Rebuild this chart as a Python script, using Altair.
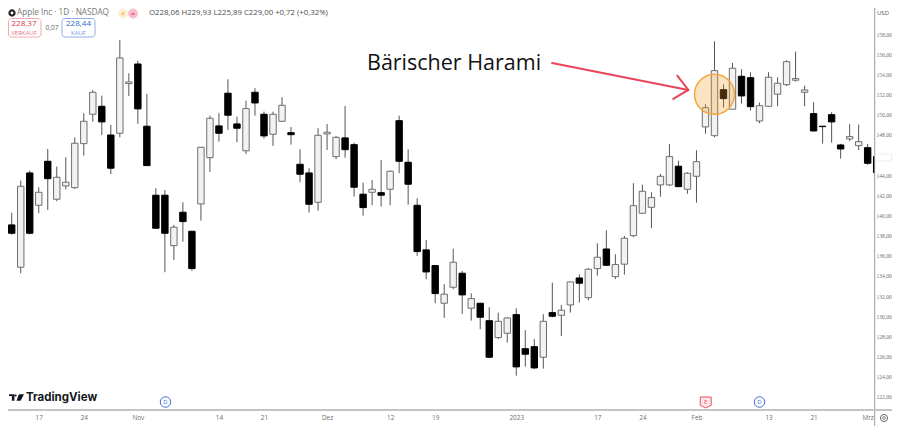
import altair as alt
import pandas as pd

highs = [141.28,140.29,143.47,144.46,142.81,146.61,144.86,145.79,147.77,150.16,
152.47,151.91,149.00,157.44,154.13,155.38,152.07,142.71,142.54,139.07,
141.32,138.47,146.81,149.92,150.16,153.53,149.82,151.41,152.64,150.32,
150.32,151.75,148.80,146.58,144.70,148.67,149.10,147.91,150.88,147.24,
143.27,143.51,145.52,144.46,149.92,146.58,141.72,137.58,135.10,133.18,
136.71,134.50,132.28,131.32,130.89,130.36,129.90,130.79,128.61,127.72,
130.20,133.34,131.12,133.44,134.17,134.77,137.25,138.54,136.16,137.97,
143.21,143.07,142.31,144.13,147.11,145.45,144.30,146.49,151.05,157.31,
153.04,155.15,154.53,154.23,151.21,154.23,153.73,155.42,156.28,152.90,
151.25,148.90,150.26,147.11,149.07,149.03,147.11,146.30]

body_tops = [139.83,139.07,142.91,144.23,142.31,145.39,143.80,143.31,147.18,149.36,
152.24,150.85,148.00,155.65,153.27,155.05,148.87,142.02,142.02,138.84,
140.33,138.44,146.78,149.66,148.90,152.15,149.10,150.62,152.24,150.06,
150.06,150.95,148.23,145.09,144.23,147.97,148.27,147.77,147.71,147.04,
142.12,142.61,142.27,144.40,149.42,145.29,141.02,136.59,135.03,132.19,
135.36,134.27,131.75,131.29,129.56,129.50,129.83,130.16,126.78,126.98,
129.50,130.36,130.60,133.41,133.80,134.67,135.86,136.68,135.13,137.75,
140.98,142.41,141.78,143.90,145.85,144.90,144.20,145.35,150.71,154.39,
152.50,154.63,153.83,153.69,150.91,153.73,153.14,155.28,153.60,152.47,
150.12,148.87,150.02,147.01,147.84,147.34,146.74,145.85]

body_bottoms = [138.87,138.24,134.87,138.24,141.02,143.66,141.62,142.94,142.77,147.14,
150.06,149.30,144.70,148.17,153.10,150.59,144.96,138.74,138.24,137.01,
139.40,134.73,141.15,145.75,148.17,149.96,148.67,146.43,151.18,147.91,
148.07,149.36,148.03,144.10,141.12,141.32,148.10,145.85,146.54,142.81,
140.79,142.31,142.02,142.61,145.39,143.11,136.42,134.40,132.25,131.29,
132.88,132.12,130.80,129.90,125.93,127.88,128.31,124.97,126.23,124.87,
125.93,130.00,130.10,131.12,133.28,131.85,134.73,135.06,133.93,135.17,
138.00,140.23,140.82,143.04,143.04,142.87,142.61,143.90,148.80,147.93,
151.61,150.56,151.88,150.81,149.39,150.85,152.05,153.00,153.44,152.24,
148.40,148.83,149.30,146.61,147.61,146.94,145.19,144.26]

lows = [138.24,138.10,134.27,138.14,140.23,140.56,141.42,142.61,142.64,145.95,
149.33,148.00,144.10,147.77,151.88,149.10,144.93,138.67,134.37,135.59,
137.41,134.53,139.49,144.33,147.34,148.50,147.28,146.12,149.92,147.64,
146.91,149.30,147.04,143.31,140.29,140.49,146.51,145.59,145.75,141.88,
139.99,141.02,140.89,141.02,144.20,141.08,135.99,133.67,131.29,129.83,
132.68,130.23,129.56,128.71,125.83,127.72,127.38,124.10,125.00,124.74,
124.80,129.90,128.04,130.36,131.35,131.59,134.03,134.99,133.70,134.13,
137.85,140.16,138.74,141.88,142.94,142.81,142.17,141.28,148.13,147.77,
150.71,150.54,151.11,150.42,149.17,150.82,150.85,152.87,153.30,150.85,
148.37,147.14,147.24,145.65,147.38,146.51,145.03,143.83]

directions = list(
    "BBWBWBWWWW" "WBBWWBBBBW" "BBWWBBBWBB" "WWBBBWWWBB"
    "BWBWBBBBBW" "WBWBBWWBBB" "WBWWBWWBWW" "WWWWWBWWWW"
    "BWBBWWWWWW" "BBBBWWBB"
)

tick_positions = [4, 9, 15, 24, 29, 36, 43, 48, 57, 66, 71, 77, 85, 90, 96]
tick_labels = ["17", "24", "Nov", "14", "21", "Dez", "12", "19", "2023", "17", "24", "Feb", "13", "21", "Mrz"]
price_ticks = list(range(122, 160, 2))

shaft_x = [60.97, 76.09]
shaft_y = [155.15, 152.47]
head_x = [74.87, 76.09, 74.43]
head_y = [153.89, 152.47, 151.58]
circle_x = [79.0]
circle_y = [152.04]

df = pd.DataFrame({
    "i": range(len(highs)), "high": highs, "top": body_tops,
    "bottom": body_bottoms, "low": lows, "dir": directions,
})

X = alt.Scale(domain=[0.588, 96.814], nice=False, zero=False, padding=0)
Y = alt.Scale(domain=[120.69, 160.61], nice=False, zero=False, padding=0)
FONT = "Open Sans"

def one():
    return alt.Chart(pd.DataFrame({"a": [0]}))

def label(text, x, y, size=8, color="#555555", align="left", weight="normal", font=FONT):
    return one().mark_text(text=text, align=align, baseline="middle", fontSize=size,
                           color=color, fontWeight=weight, font=font).encode(
        x=alt.value(x - 8), y=alt.value(y - 8))

def box(x, x2, y, y2, stroke, fill="#ffffff", radius=3, width=1):
    return one().mark_rect(fill=fill, stroke=stroke, strokeWidth=width, cornerRadius=radius).encode(
        x=alt.value(x - 8), x2=alt.value(x2 - 8), y=alt.value(y - 8), y2=alt.value(y2 - 8))

def hrule(x, x2, y, color, width=1):
    return one().mark_rule(color=color, strokeWidth=width).encode(
        x=alt.value(x - 8), x2=alt.value(x2 - 8), y=alt.value(y - 8))

def vrule(x, y, y2, color, width=1):
    return one().mark_rule(color=color, strokeWidth=width).encode(
        x=alt.value(x - 8), y=alt.value(y - 8), y2=alt.value(y2 - 8))

def symbol(x, y, size, shape="circle", fill="#ffffff", stroke="#000000", width=1):
    return one().mark_point(shape=shape, size=size, filled=True, fill=fill, stroke=stroke,
                            strokeWidth=width, opacity=1).encode(
        x=alt.value(x - 8), y=alt.value(y - 8))

label_expr = ("[" + ",".join(f"'{t}'" for t in tick_labels) + "]"
              "[indexof([" + ",".join(map(str, tick_positions)) + "],datum.value)]")

x_axis = alt.Axis(
    values=tick_positions, labelExpr=label_expr, title=None, grid=False, ticks=False,
    domain=False, labelFontSize=6.4, labelColor="#6f6f6f", labelPadding=4, labelFont=FONT,
    labelFlush=False, labelOverlap=False)
y_axis = alt.Axis(
    orient="right", values=price_ticks, title=None, grid=False, ticks=False, domain=False,
    labelExpr="replace(format(datum.value,'.2f'),'.',',')", labelFontSize=5.6,
    labelColor="#6f6f6f", labelPadding=1, labelFont="Liberation Sans Narrow", labelOverlap=False,
    labelBound=False, labelFlush=False)

wicks = alt.Chart(df).mark_rule(color="#555555", strokeWidth=1, clip=True).encode(
    x=alt.X("i:Q", scale=X, axis=x_axis), y=alt.Y("high:Q", scale=Y, axis=y_axis), y2="low:Q")

bodies = alt.Chart(df).mark_bar(size=6.4, strokeWidth=1, clip=True).encode(
    x=alt.X("i:Q", scale=X, axis=x_axis),
    y=alt.Y("top:Q", scale=Y, axis=y_axis),
    y2="bottom:Q",
    fill=alt.Fill("dir:N", scale=alt.Scale(domain=["B", "W"], range=["#000000", "#f2f2f2"]), legend=None),
    stroke=alt.Stroke("dir:N", scale=alt.Scale(domain=["B", "W"], range=["#000000", "#6e6e6e"]), legend=None),
)

shaft = alt.Chart(pd.DataFrame({"x": shaft_x, "y": shaft_y, "o": range(2)})).mark_line(
    color="#e8455a", strokeWidth=2, strokeCap="round").encode(
    x=alt.X("x:Q", scale=X, axis=x_axis), y=alt.Y("y:Q", scale=Y, axis=y_axis), order="o:O")
head = alt.Chart(pd.DataFrame({"x": head_x, "y": head_y, "o": range(3)})).mark_line(
    color="#e8455a", strokeWidth=2, strokeCap="round").encode(
    x=alt.X("x:Q", scale=X, axis=x_axis), y=alt.Y("y:Q", scale=Y, axis=y_axis), order="o:O")

circle = alt.Chart(pd.DataFrame({"x": circle_x, "y": circle_y})).mark_point(
    shape="circle", size=1600, filled=True, fill="#f59a23", fillOpacity=0.28,
    stroke="#f3a73f", strokeWidth=1.5, strokeOpacity=1, opacity=1).encode(
    x=alt.X("x:Q", scale=X, axis=x_axis), y=alt.Y("y:Q", scale=Y, axis=y_axis))

logo = "M-1 -0.44H-0.28V0.44H-0.62V-0.2H-1Z M0.02 -0.27A0.14 0.14 0 1 1 -0.26 -0.27A0.14 0.14 0 1 1 0.02 -0.27Z M0.32 -0.44H1L0.55 0.44H0Z"
shield = "M-1 -1H1V0.5L0 1L-1 0.5Z"

layers = [
    wicks, bodies,
    circle, shaft, head,
    label("Bärischer Harami", 367, 63.5, size=21.5, color="#111111", font="Open Sans"),

    # chrome: axes lines
    vrule(874.7, 8, 426, "#9c9c9c", 1),
    hrule(8, 892, 410, "#c4c4c4", 2),

    # price tag ghost and currency
    box(875.5, 891.5, 154, 161, "#eeeeee", radius=1),
    label("USD", 877, 13, size=6, color="#555555"),

    # header
    symbol(12, 13, 26, stroke="#222222", width=2.2),
    label("Apple Inc · 1D · NASDAQ", 17, 13.2, size=8.2, color="#777777"),
    symbol(123, 13.5, 80, fill="#fdf1d4", stroke="#fdf1d4"),
    label("☀", 123, 13.5, size=6.5, color="#f4b13e", align="center", font="DejaVu Sans"),
    symbol(133, 13.5, 80, fill="#f8bccb", stroke="#f8bccb"),
    label("=", 133, 14, size=7, color="#d6336c", align="center"),
    label("O228,06  H229,93  L225,89  C229,00  +0,72 (+0,32%)", 149, 13.2, size=7.8, color="#4d4d4d"),
    box(8.5, 41, 18.5, 37, "#f2a9b2"),
    label("228,37", 24, 24, size=8, color="#d8344b", align="center"),
    label("VERKAUF", 24, 32.5, size=6, color="#e8707f", align="center"),
    label("0,07", 52, 28, size=6.5, color="#666666", align="center"),
    box(62, 95, 18.5, 37, "#8fb0ea"),
    label("228,44", 78.5, 24, size=8, color="#2f66d0", align="center"),
    label("KAUF", 78.5, 32.5, size=6, color="#6f96e2", align="center"),

    # logo
    symbol(16.5, 397.5, 225, shape=logo, fill="#131722", stroke="#131722", width=0),
    label("TradingView", 26, 397.5, size=11.5, color="#131722", weight="bold", font="Inter"),

    # event markers
    symbol(165.5, 402, 110, fill="#ffffff", stroke="#3d6fd9", width=1),
    label("D", 165.5, 402, size=6, color="#3d6fd9", align="center"),
    symbol(705.7, 402.5, 120, shape=shield, fill="#fde8ea", stroke="#e5505f", width=1),
    label("E", 705.7, 402, size=6, color="#e5505f", align="center"),
    symbol(759.5, 402, 110, fill="#ffffff", stroke="#3d6fd9", width=1),
    label("D", 759.5, 402, size=6, color="#3d6fd9", align="center"),

    # settings icon
    symbol(884, 418, 50, fill="#ffffff", stroke="#666666", width=1),
    symbol(884, 418, 8, fill="#ffffff", stroke="#666666", width=0.8),
]

chart = alt.layer(*layers).resolve_scale(fill="independent", stroke="independent").properties(
    width=867, height=402,
    autosize=alt.AutoSizeParams(type="none"),
    padding={"left": 0, "top": 0, "right": 17, "bottom": 16},
    background="#ffffff",
).configure_view(stroke=None)

chart.save("out.html", embed_options={"renderer": "svg", "actions": False})
